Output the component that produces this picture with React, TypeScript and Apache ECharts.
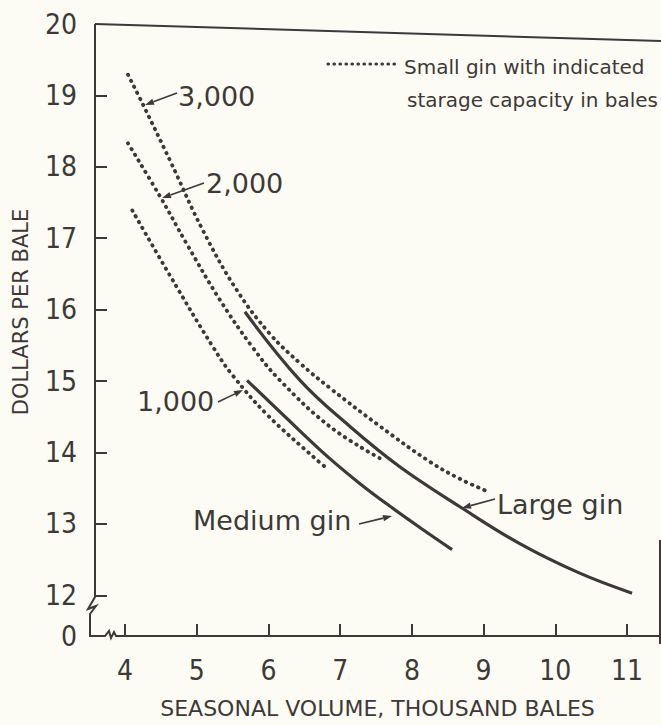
import React, { useEffect, useRef } from "react";
import * as echarts from "echarts";

// ---- data (thousand bales -> dollars per bale) ----
const xTickValues = [4, 5, 6, 7, 8, 9, 10, 11];
const yTickValues = [12, 13, 14, 15, 16, 17, 18, 19, 20];
const yBreakValue = 11.43; // shown as "0" below the axis break
const xMin = 3.58;
const xMax = 11.46;
const yMax = 20;

const small3000 = [
  [4.04, 19.29], [4.25, 18.87], [4.63, 18.08], [5.09, 17.1], [5.56, 16.27], [6.02, 15.66],
  [6.44, 15.25], [6.86, 14.9], [7.55, 14.37], [8.25, 13.87], [8.67, 13.63], [9.02, 13.47],
];
const small2000 = [
  [4.04, 18.33], [4.49, 17.58], [4.86, 16.92], [5.32, 16.14], [5.78, 15.47], [6.16, 15.01],
  [6.86, 14.36], [7.55, 13.92],
];
const small1000 = [
  [4.1, 17.39], [4.63, 16.47], [5.23, 15.47], [5.5, 15.08], [5.98, 14.53], [6.68, 13.89],
  [6.8, 13.79],
];
const mediumGin = [
  [5.7, 15.01], [6.44, 14.3], [6.86, 13.91], [7.28, 13.56], [7.69, 13.25], [8.11, 12.95],
  [8.56, 12.64],
];
const largeGin = [
  [5.67, 15.97], [6.44, 15.01], [7.14, 14.36], [7.83, 13.8], [8.67, 13.24], [9.51, 12.72],
  [10.34, 12.31], [11.07, 12.03],
];

const INK = "#3d3936";
const BG = "#fcfcf5";
const SANS = "'DejaVu Sans', Roboto, sans-serif";
const COND = "'DejaVu Sans Condensed', 'Liberation Sans Narrow', 'DejaVu Sans', sans-serif";

function arrow(x1: number, y1: number, x2: number, y2: number) {
  const dx = x2 - x1;
  const dy = y2 - y1;
  const L = Math.hypot(dx, dy);
  const ux = dx / L;
  const uy = dy / L;
  const hl = 9;
  const hw = 3.2;
  const bx = x2 - ux * hl;
  const by = y2 - uy * hl;
  return [
    { type: "line", shape: { x1, y1, x2: bx, y2: by }, style: { stroke: INK, lineWidth: 1.6 } },
    {
      type: "polygon",
      shape: { points: [[x2, y2], [bx - uy * hw, by + ux * hw], [bx + uy * hw, by - ux * hw]] },
      style: { fill: INK },
    },
  ];
}

function label(text: string, x: number, y: number, size = 27, family = SANS) {
  return {
    type: "text",
    x,
    y,
    style: {
      text,
      fill: INK,
      fontSize: size,
      fontFamily: family,
      textAlign: "left",
      textVerticalAlign: "middle",
    },
  };
}

export default function App() {
  const ref = useRef<HTMLDivElement>(null);

  useEffect(() => {
    if (!ref.current) return;
    const chart = echarts.init(ref.current, null, { renderer: "svg" });

    const dotted = {
      color: INK,
      width: 3.8,
      type: [0.5, 6.2],
      cap: "round",
    };
    const solid = { color: INK, width: 3.2, type: "solid" };

    const lineSeries = (name: string, data: number[][], style: any) => ({
      name,
      type: "line",
      data,
      smooth: 0.4,
      showSymbol: false,
      symbol: "none",
      lineStyle: style,
      silent: true,
    });

    chart.setOption({
      animation: false,
      backgroundColor: BG,
      grid: {
        left: 95,
        right: 1,
        top: 24,
        bottom: 89,
        containLabel: false,
        outerBoundsMode: "none",
      },
      xAxis: {
        type: "value",
        min: xMin,
        max: xMax,
        splitLine: { show: false },
        axisLine: { show: false },
        axisTick: {
          show: true,
          inside: true,
          length: 12,
          customValues: xTickValues,
          lineStyle: { color: INK, width: 2 },
        },
        axisLabel: {
          customValues: xTickValues,
          margin: 20,
          color: INK,
          fontSize: 28,
          fontFamily: COND,
        },
        name: "SEASONAL VOLUME, THOUSAND BALES",
        nameLocation: "middle",
        nameGap: 61,
        nameTextStyle: { color: INK, fontSize: 22, fontFamily: SANS },
      },
      yAxis: {
        type: "value",
        min: yBreakValue,
        max: yMax,
        splitLine: { show: false },
        axisLine: { show: false },
        axisTick: {
          show: true,
          inside: true,
          length: 12,
          customValues: yTickValues.slice(0, -1),
          lineStyle: { color: INK, width: 2 },
        },
        axisLabel: {
          customValues: [yBreakValue, ...yTickValues],
          formatter: (v: number) => (v < 12 ? "0" : String(Math.round(v))),
          margin: 18,
          color: INK,
          fontSize: 28,
          fontFamily: COND,
        },
        name: "DOLLARS PER BALE",
        nameLocation: "middle",
        nameGap: 64,
        nameRotate: 90,
        nameTextStyle: { color: INK, fontSize: 21, fontFamily: SANS, padding: [0, 0, 0, 36] },
      },
      series: [
        lineSeries("3,000", small3000, dotted),
        lineSeries("2,000", small2000, dotted),
        lineSeries("1,000", small1000, dotted),
        lineSeries("Medium gin", mediumGin, solid),
        lineSeries("Large gin", largeGin, solid),
      ],
      graphic: [
        // frame & axis lines with breaks
        { type: "line", shape: { x1: 95, y1: 24, x2: 661, y2: 41 }, style: { stroke: INK, lineWidth: 2 } },
        { type: "line", shape: { x1: 660, y1: 540, x2: 660, y2: 644 }, style: { stroke: INK, lineWidth: 2 } },
        {
          type: "polyline",
          shape: {
            points: [
              [95, 24], [95, 597], [88, 609], [96, 606], [90, 614], [90, 636], [105, 636],
              [109, 631], [111, 638], [114, 632], [116, 636], [661, 636],
            ],
          },
          style: { stroke: INK, lineWidth: 2, fill: "none" },
        },
        // legend
        {
          type: "line",
          shape: { x1: 328, y1: 64, x2: 400, y2: 64 },
          style: { stroke: INK, lineWidth: 3.2, lineDash: [0.5, 5.5], lineCap: "round" },
        },
        label("Small gin with indicated", 404, 67, 20),
        label("starage capacity in bales", 407, 100, 20),
        // curve labels
        label("3,000", 178, 96),
        ...arrow(177, 93, 145, 105),
        label("2,000", 206, 183),
        ...arrow(204, 183, 162, 198),
        label("1,000", 137, 401),
        ...arrow(218, 402, 243, 390),
        label("Medium gin", 193, 520),
        ...arrow(359, 524, 392, 516),
        label("Large gin", 497, 504),
        ...arrow(495, 499, 462, 508),
      ],
    });

    return () => chart.dispose();
  }, []);

  return (
    <div
      ref={ref}
      style={{ position: "fixed", left: 0, top: 0, width: 661, height: 725, background: BG }}
    />
  );
}
